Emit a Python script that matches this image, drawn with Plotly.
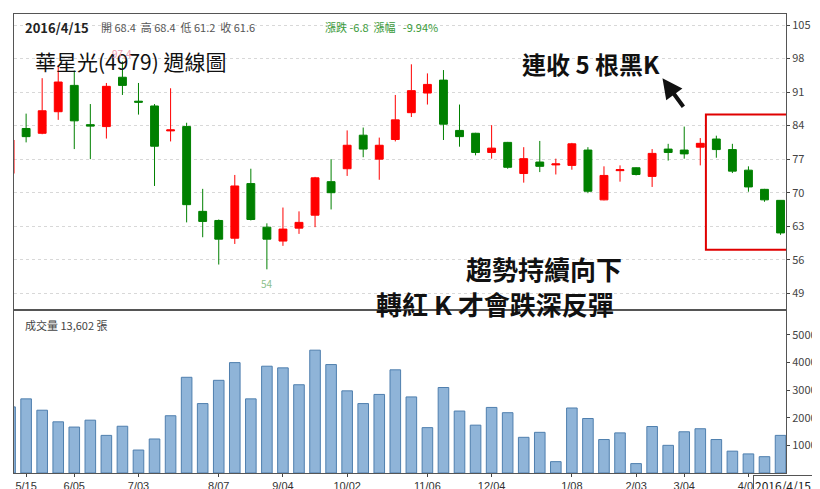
import plotly.graph_objects as go
from plotly.subplots import make_subplots

# weekly K-line data, 2015/5/8 .. 2016/4/15
opens = [74.0, 83.4, 82.4, 86.9, 92.4, 84.2, 83.8, 94.1, 89.1, 88.1, 82.9, 83.8, 66.1, 64.2, 60.5, 71.9, 62.8,
         59.9, 62.6, 65.3, 72.3, 75.0, 82.0, 77.0, 81.1, 86.7, 90.8, 93.5, 83.0, 82.4, 78.4, 80.5, 74.0,
         76.4, 75.8, 75.7, 78.9, 68.5, 74.6, 75.2, 73.4, 79.1, 78.9, 79.5, 81.2, 79.0, 74.7, 70.7, 68.4]
highs = [82.0, 86.5, 93.9, 96.6, 95.5, 88.5, 92.9, 97.4, 92.9, 88.5, 91.8, 84.6, 70.8, 64.4, 73.7, 75.0, 63.6,
         66.9, 66.1, 73.3, 77.0, 83.0, 83.6, 81.5, 90.4, 96.8, 94.9, 95.6, 88.4, 82.5, 84.1, 80.6, 79.5,
         80.8, 77.1, 80.4, 79.5, 75.5, 75.7, 75.3, 79.1, 80.2, 83.8, 81.4, 81.9, 80.2, 75.5, 70.8, 68.4]
lows = [73.0, 80.5, 82.2, 85.2, 79.1, 77.0, 81.3, 90.4, 86.3, 71.4, 80.7, 63.8, 60.7, 55.0, 59.3, 64.2, 54.0,
        58.9, 61.4, 62.8, 66.5, 73.5, 77.4, 72.7, 80.7, 85.8, 88.4, 81.0, 79.6, 77.8, 77.1, 75.0, 72.1,
        74.3, 73.8, 74.8, 69.9, 68.4, 72.3, 73.6, 71.2, 76.7, 77.1, 75.7, 77.3, 74.1, 70.2, 68.1, 61.2]
closes = [81.0, 81.7, 87.1, 93.1, 85.0, 83.9, 92.2, 92.4, 88.9, 79.7, 83.1, 67.5, 64.0, 60.3, 71.4, 64.4, 60.3,
          62.4, 63.8, 73.1, 70.0, 79.9, 79.1, 79.9, 85.2, 91.3, 92.6, 84.3, 81.7, 78.4, 79.3, 75.3, 77.1,
          75.5, 76.0, 80.2, 70.3, 73.6, 74.8, 73.8, 78.2, 78.4, 78.1, 80.3, 79.0, 74.5, 71.2, 68.5, 61.6]
volumes = [23900, 26800, 22700, 18500, 16600, 19100, 13600, 16900, 8300, 12300, 20700, 34600, 25100, 33500,
           39900, 26800, 38600, 38000, 31900, 44400, 39200, 29700, 25100, 28400, 37300, 27500, 16400, 30900,
           22400, 17300, 23700, 21800, 12900, 14700, 4100, 23500, 19700, 12100, 14500, 3400, 16800, 10000,
           14900, 16000, 12100, 7900, 6900, 5900, 13602]

tick_idx = [1, 4, 8, 13, 17, 21, 26, 30, 35, 39, 42, 46]
tick_text = ["5/15", "6/05", "7/03", "8/07", "9/04", "10/02", "11/06", "12/04", "1/08", "2/03", "3/04", "4/01"]
price_ticks = [49, 56, 63, 70, 77, 84, 91, 98, 105]
vol_ticks = [10000, 20000, 30000, 40000, 50000]

x = list(range(len(opens)))

fig = make_subplots(rows=2, cols=1, shared_xaxes=True, vertical_spacing=0, row_heights=[0.645, 0.355])

fig.add_candlestick(x=x, open=opens, high=highs, low=lows, close=closes,
                    increasing=dict(line=dict(color="#ff0000", width=1), fillcolor="#ff0000"),
                    decreasing=dict(line=dict(color="#008000", width=1), fillcolor="#008000"),
                    whiskerwidth=0, showlegend=False, hoverinfo="skip", row=1, col=1)

fig.add_bar(x=x, y=volumes, marker=dict(color="#8fb4d8", line=dict(color="#4f7fae", width=1)),
            width=0.66, showlegend=False, row=2, col=1)

fig.update_xaxes(range=[0.245, 48.34], showgrid=False, zeroline=False, rangeslider_visible=False,
                 showline=True, linecolor="#555", mirror=True, ticks="", showticklabels=False, row=1, col=1)
fig.update_xaxes(range=[0.245, 48.34], showgrid=False, zeroline=False, tickvals=tick_idx, ticktext=tick_text,
                 showline=True, linecolor="#555", mirror=True, ticks="outside", ticklen=3,
                 tickfont=dict(size=11, color="#333", family="Liberation Sans"), row=2, col=1)
fig.update_yaxes(range=[45.5, 107.3], side="right", tickvals=price_ticks, showgrid=True,
                 gridcolor="#d8d8d8", griddash="dot", zeroline=False, showline=True, linecolor="#555",
                 mirror=True, ticks="outside", ticklen=3, tickfont=dict(size=11, color="#444"), row=1, col=1)
fig.update_yaxes(range=[0, 58900], side="right", tickvals=vol_ticks, ticktext=[str(v) for v in vol_ticks],
                 showgrid=False, zeroline=False, showline=True, linecolor="#555", mirror=True,
                 ticks="outside", ticklen=3, tickfont=dict(size=11, color="#444"), row=2, col=1)

# red box around the last 5 black candles
fig.add_shape(type="rect", x0=43.35, x1=48.5, y0=58.1, y1=86.3, xref="x", yref="y",
              line=dict(color="#e00000", width=2))

anns = [
    dict(x=0.012, y=0.995, text="<b>2016/4/15</b>", font=dict(size=13, color="#222"), xanchor="left"),
    dict(x=0.11, y=0.993, text="開 68.4  高 68.4  低 61.2  收 61.6", font=dict(size=11, color="#555"), xanchor="left"),
    dict(x=0.40, y=0.993, text="漲跌 -6.8  漲幅   -9.94%", font=dict(size=11, color="#3a9a3a"), xanchor="left"),
    dict(x=0.025, y=0.935, text="華星光(4979) 週線圖", font=dict(size=21, color="#111"), xanchor="left"),
    dict(x=0.84, y=0.935, text="<b>連收 5 根黑K</b>", font=dict(size=24, color="#111")),
    dict(x=0.79, y=0.49, text="<b>趨勢持續向下</b>", font=dict(size=26, color="#111")),
    dict(x=0.78, y=0.415, text="<b>轉紅 K 才會跌深反彈</b>", font=dict(size=26, color="#111")),
    dict(x=0.012, y=0.345, text="成交量 13,602 張", font=dict(size=11, color="#444"), xanchor="left"),
]
for a in anns:
    fig.add_annotation(xref="paper", yref="paper", showarrow=False, yanchor="top", **a)

fig.add_annotation(x=16, y=54, xref="x", yref="y", text="54", showarrow=False, yshift=-14,
                   font=dict(size=10, color="#8cbf8c"))
fig.add_annotation(x=7, y=97.4, xref="x", yref="y", text="97.4", showarrow=False, yshift=8,
                   font=dict(size=10, color="#f0a0b0"))
# arrow pointing at the box
fig.add_annotation(x=0.84, y=0.86, ax=22, ay=30, xref="paper", yref="paper",
                   text="", showarrow=True, arrowhead=2, arrowsize=1, arrowwidth=4, arrowcolor="#111")
fig.add_annotation(x=1.035, y=-0.005, xref="paper", yref="paper", text="2016/4/15", showarrow=False,
                   yanchor="top", font=dict(size=12, color="#222"), bgcolor="white", bordercolor="#555",
                   borderwidth=1, borderpad=1)

fig.update_layout(width=820, height=489, margin=dict(l=6, r=30, t=5, b=19), plot_bgcolor="white",
                  paper_bgcolor="white", font=dict(family="Noto Sans CJK TC"), bargap=0.3)

fig.write_html("out.html")
